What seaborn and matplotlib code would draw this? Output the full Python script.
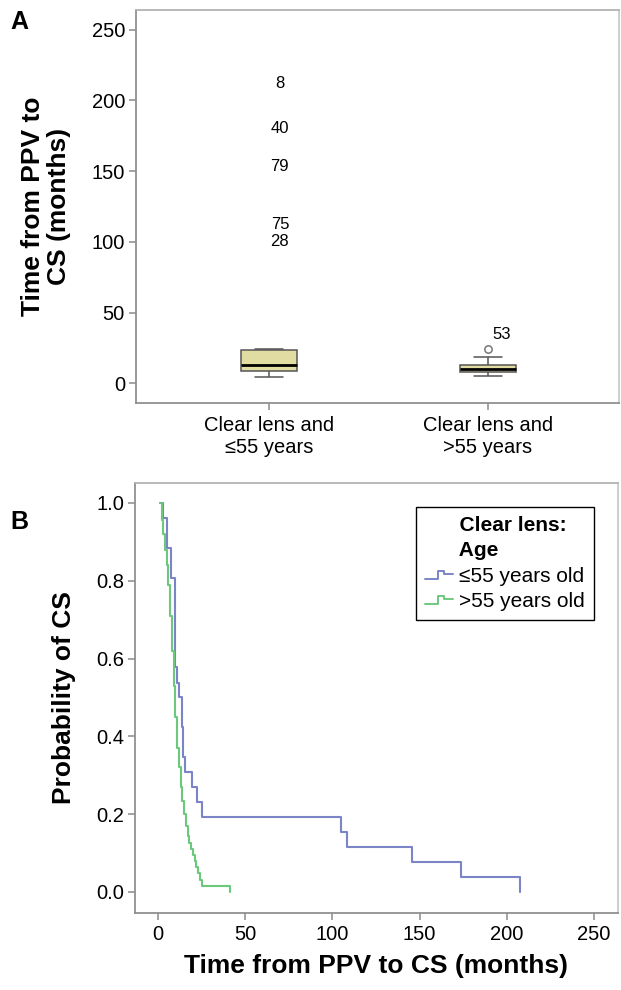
import numpy as np
import pandas as pd
import matplotlib
matplotlib.use("Agg")
import matplotlib.pyplot as plt
import seaborn as sns
from matplotlib.legend_handler import HandlerLine2D
from matplotlib.lines import Line2D

# ---------------- data ----------------
categories = ["Clear lens and\n≤55 years", "Clear lens and\n>55 years"]
# five-number summaries (low whisker, Q1, median, Q3, high whisker)
box_young = [4.5, 8.7, 12.7, 23.4, 24.5]
box_old = [5.0, 8.0, 10.4, 12.7, 18.6]
# outliers
outlier_old_value = [24.5]
outlier_old_label = ["53"]
extreme_young_values = [212, 180, 153, 112, 100]
extreme_young_labels = ["8", "40", "79", "75", "28"]

# Kaplan-Meier curves
km_young_t = [1.0, 2.7, 5.0, 7.3, 9.6, 10.7, 12.2, 13.6, 14.5, 15.5, 19.7, 22.5, 25.0,
              105.0, 108.5, 145.8, 173.7, 207.6]
km_young_s = [1.0, 0.962, 0.885, 0.808, 0.577, 0.538, 0.500, 0.423, 0.346, 0.308, 0.269,
              0.231, 0.192, 0.154, 0.115, 0.077, 0.038, 0.0]
km_old_t = [1.5, 2.0, 3.0, 4.0, 5.0, 6.0, 7.0, 8.0, 9.0, 10.0, 11.0, 12.0, 13.0, 14.0,
            15.0, 16.0, 17.0, 18.0, 19.0, 20.0, 21.0, 22.0, 23.0, 24.0, 25.0, 41.0]
km_old_s = [1.0, 0.955, 0.92, 0.88, 0.84, 0.79, 0.71, 0.62, 0.53, 0.45, 0.37, 0.32, 0.27,
            0.235, 0.20, 0.17, 0.145, 0.125, 0.11, 0.095, 0.08, 0.065, 0.05, 0.03, 0.015, 0.0]
legend_labels = ["≤55 years old", ">55 years old"]

# ---------------- style ----------------
sns.set_theme(style="white")
plt.rcParams["font.family"] = ["Liberation Sans", "DejaVu Sans"]
for k in ["text.color", "axes.labelcolor", "xtick.labelcolor", "ytick.labelcolor"]:
    plt.rcParams[k] = "black"

BOX_COLOR = "#e1dca2"
BLUE = "#7b84c6"
GREEN = "#6cc97c"
SPINE = "#8c8c8c"
TICK_FS = 14.5
LABEL_FS = 19

fig = plt.figure(figsize=(6.21, 9.90), dpi=100)
axA = fig.add_axes([136 / 621, 1 - 403 / 990, 483 / 621, 393 / 990])
axB = fig.add_axes([135 / 621, 1 - 913 / 990, 483 / 621, 430 / 990])

# ---------------- panel A ----------------
df_box = pd.DataFrame({
    "group": [categories[0]] * len(box_young) + [categories[1]] * len(box_old),
    "value": box_young + box_old,
})
sns.boxplot(data=df_box, x="group", y="value", order=categories, ax=axA,
            width=0.256, color=BOX_COLOR, saturation=1, showfliers=False,
            linecolor="#555555", linewidth=1.1,
            medianprops=dict(color="black", linewidth=2.0))

df_out = pd.DataFrame({"group": [categories[1]] * len(outlier_old_value),
                       "value": outlier_old_value})
sns.scatterplot(data=df_out, x="group", y="value", ax=axA, marker="o", s=28,
                facecolor="white", edgecolor="#777777", linewidth=1.1, zorder=5)
for v, lab in zip(outlier_old_value, outlier_old_label):
    axA.text(1.06, v + 5, lab, fontsize=12, ha="center", va="bottom")
for v, lab in zip(extreme_young_values, extreme_young_labels):
    axA.text(0.05, v, lab, fontsize=12, ha="center", va="center")

axA.set_xlim(-0.607, 1.598)
axA.set_ylim(-14, 264)
axA.set_yticks([0, 50, 100, 150, 200, 250])
axA.set_xlabel("")
axA.set_ylabel("Time from PPV to\nCS (months)", fontsize=LABEL_FS, fontweight="bold",
               linespacing=1.1)
axA.yaxis.set_label_coords(-0.135, 0.5)
axA.tick_params(axis="both", which="both", direction="out", length=5, width=1.1,
                color=SPINE, labelsize=TICK_FS, left=True, bottom=True, pad=3)
axA.tick_params(axis="x", pad=4)
for lab in axA.get_xticklabels():
    lab.set_linespacing(1.2)
for s in axA.spines.values():
    s.set_color(SPINE)
axA.spines["top"].set_color("#b0b0b0")
axA.spines["right"].set_color("#c8c8c8")

# ---------------- panel B ----------------
df_km = pd.DataFrame({
    "time": km_young_t + km_old_t,
    "surv": km_young_s + km_old_s,
    "grp": [legend_labels[0]] * len(km_young_t) + [legend_labels[1]] * len(km_old_t),
})
sns.lineplot(data=df_km, x="time", y="surv", hue="grp", hue_order=legend_labels,
             palette=[BLUE, GREEN], estimator=None, sort=False,
             drawstyle="steps-post", linewidth=1.5, ax=axB, legend=False)

axB.set_xlim(-13.2, 263.8)
axB.set_ylim(-0.054, 1.051)
axB.set_xticks([0, 50, 100, 150, 200, 250])
axB.set_yticks([0.0, 0.2, 0.4, 0.6, 0.8, 1.0])
axB.set_yticklabels(["0.0", "0.2", "0.4", "0.6", "0.8", "1.0"])
axB.set_xlabel("Time from PPV to CS (months)", fontsize=LABEL_FS, fontweight="bold")
axB.xaxis.set_label_coords(0.5, -0.095)
axB.set_ylabel("Probability of CS", fontsize=LABEL_FS, fontweight="bold")
axB.yaxis.set_label_coords(-0.122, 0.5)
axB.tick_params(axis="both", which="both", direction="out", length=5, width=1.1,
                color=SPINE, labelsize=TICK_FS, left=True, bottom=True, pad=3)
axB.tick_params(axis="x", pad=4)
for s in axB.spines.values():
    s.set_color(SPINE)
axB.spines["top"].set_color("#b0b0b0")
axB.spines["right"].set_color("#c8c8c8")


class StepHandler(HandlerLine2D):
    def create_artists(self, legend, orig_handle, xdescent, ydescent, width, height,
                       fontsize, trans):
        xs = np.array([0.0, 0.45, 0.45, 0.7, 0.7, 1.0]) * width - xdescent
        ys = np.array([0.2, 0.2, 0.75, 0.75, 0.55, 0.55]) * height - ydescent
        ln = Line2D(xs, ys, color=orig_handle.get_color(), linewidth=1.4)
        ln.set_transform(trans)
        return [ln]


handles = [Line2D([], [], color=BLUE), Line2D([], [], color=GREEN)]
leg = axB.legend(handles, legend_labels, title="      Clear lens:\n      Age",
                 handler_map={Line2D: StepHandler()},
                 loc="upper left", bbox_to_anchor=(0.582, 0.944), borderaxespad=0,
                 fontsize=15, title_fontproperties={"weight": "bold", "size": 15},
                 frameon=True, fancybox=False, edgecolor="black", framealpha=1,
                 handlelength=1.3, handletextpad=0.3, borderpad=0.45,
                 labelspacing=0.3, alignment="left")
leg.get_frame().set_linewidth(1.0)
leg.get_title().set_linespacing(1.4)

# panel letters
fig.text(10 / 621, 1 - 22 / 990, "A", fontsize=18, fontweight="bold", va="center")
fig.text(10 / 621, 1 - 522 / 990, "B", fontsize=18, fontweight="bold", va="center")

fig.savefig("out.png", dpi=100)
